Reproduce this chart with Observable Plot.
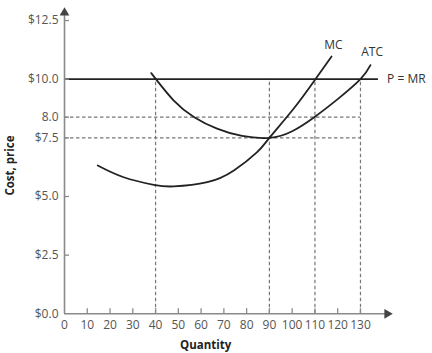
<!DOCTYPE html>
<html>
<head>
<meta charset="utf-8">
<script src="https://cdn.jsdelivr.net/npm/d3@7"></script>
<script src="https://cdn.jsdelivr.net/npm/@observablehq/plot@0.6"></script>
<style>
  html, body { margin: 0; padding: 0; background: #fff; }
  svg { font-family: "Open Sans", sans-serif; overflow: visible; }
</style>
</head>
<body>
<div id="chart"></div>
<script>
// ---- data ----
const mcQuantity = [14.6, 26, 39.2, 48, 62.7, 74.4, 84.6, 90, 100.7, 110.2, 117.3];
const mcCost     = [6.32, 5.82, 5.50, 5.43, 5.61, 6.11, 6.89, 7.5, 8.75, 10.0, 10.97];
const atcQuantity = [38.1, 48, 57, 67, 78, 90, 100, 110, 120, 130, 134.4];
const atcCost     = [10.26, 9.09, 8.38, 7.89, 7.58, 7.5, 7.78, 8.4, 9.15, 10.0, 10.6];
const price = 10;
const priceLineEnd = 137.9;
const dropQuantities = [40, 90, 110, 130];
const dropLevels = [7.5, 8.38];
const xTicks = [0, 10, 20, 30, 40, 50, 60, 70, 80, 90, 100, 110, 120, 130];
const yTicks = [0, 2.5, 5, 7.5, 8.38, 10, 12.5];
const yTickLabels = ["$0.0", "$2.5", "$5.0", "$7.5", "8.0", "$10.0", "$12.5"];
const curveLabels = [
  {q: 118.1, c: 11.43, text: "MC"},
  {q: 135.1, c: 11.14, text: "ATC"}
];
const priceLabel = {q: 141.7, c: 10.0, text: "P = MR"};

const mc = mcQuantity.map((q, i) => ({q, c: mcCost[i]}));
const atc = atcQuantity.map((q, i) => ({q, c: atcCost[i]}));
const xMax = 143.5, yMax = 13;
const axisColor = "#8a8a8a", labelColor = "#555", ink = "#222";
const dash = {stroke: "#777", strokeWidth: 1.2, strokeDasharray: "3.5,2.5"};

const chart = Plot.plot({
  width: 432,
  height: 353,
  marginLeft: 64,
  marginRight: 41.3,
  marginTop: 8.3,
  marginBottom: 39.7,
  x: {domain: [0, xMax], axis: null},
  y: {domain: [0, yMax], axis: null},
  marks: [
    Plot.ruleX(dropQuantities, {x: d => d, y1: 0, y2: price, ...dash}),
    Plot.ruleY(dropLevels, {y: d => d, x1: 0, x2: 130, ...dash}),
    Plot.ruleY([price], {y: d => d, x1: 0, x2: priceLineEnd, stroke: ink, strokeWidth: 1.8}),
    Plot.line(mc, {x: "q", y: "c", curve: "natural", stroke: ink, strokeWidth: 1.8}),
    Plot.line(atc, {x: "q", y: "c", curve: "natural", stroke: ink, strokeWidth: 1.8}),
    // axes
    Plot.ruleX([0], {x: d => d, y1: 0, y2: yMax - 0.2, stroke: axisColor, strokeWidth: 1.6}),
    Plot.ruleY([0], {y: d => d, x1: 0, x2: xMax - 1.5, stroke: axisColor, strokeWidth: 1.6}),
    Plot.dot([0], {x: d => d, y: yMax, symbol: "triangle", r: 3.6, fill: "#444", stroke: null, dy: 4}),
    Plot.dot([0], {x: xMax, y: d => d, symbol: "triangle", r: 3.6, fill: "#444", stroke: null, rotate: 90, dx: -4}),
    Plot.ruleX(xTicks.filter(d => d > 0), {x: d => d, y1: 0, y2: 0.22, stroke: axisColor, strokeWidth: 1.3}),
    Plot.ruleY(yTicks.filter(d => d > 0), {y: d => d, x1: 0, x2: 2.2, stroke: axisColor, strokeWidth: 1.3}),
    // tick labels
    Plot.text(xTicks, {x: d => d, y: 0, dy: 11, text: d => String(d), fontSize: 12, fill: labelColor}),
    Plot.text(yTicks, {x: 0, y: d => d, dx: -6, textAnchor: "end", text: (d, i) => yTickLabels[i], fontSize: 12, fill: labelColor}),
    // axis titles
    Plot.text(["Quantity"], {x: 62, y: 0, dy: 32, text: d => d, fontSize: 11.5, fontWeight: "bold", fill: ink}),
    Plot.text(["Cost, price"], {x: 0, y: 6.32, dx: -54, rotate: -90, text: d => d, fontSize: 11.5, fontWeight: "bold", fill: ink}),
    // curve labels
    Plot.text(curveLabels, {x: "q", y: "c", text: "text", textAnchor: "middle", fontSize: 12, fill: "#333"}),
    Plot.text([priceLabel], {x: "q", y: "c", text: "text", textAnchor: "start", fontSize: 12, fill: "#333"})
  ]
});
document.getElementById("chart").appendChild(chart);
</script>
</body>
</html>
